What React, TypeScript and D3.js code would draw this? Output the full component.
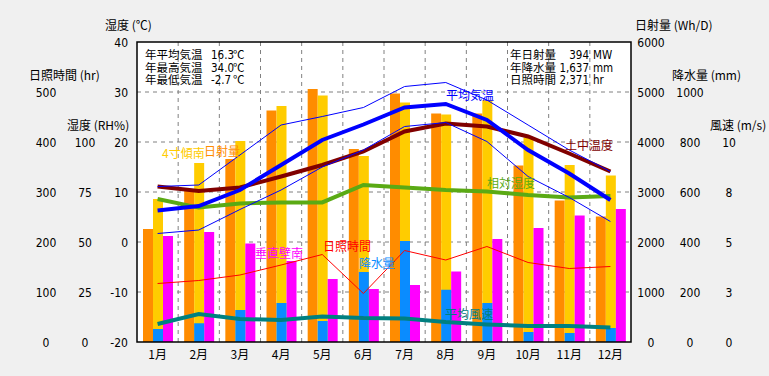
import React from "react";
import * as d3 from "d3";

const months = ["1月","2月","3月","4月","5月","6月","7月","8月","9月","10月","11月","12月"];
const radiation = [2260, 3030, 3660, 4630, 5060, 3860, 4970, 4570, 4570, 3530, 2830, 2510];
const tiltSouth = [2860, 3580, 4020, 4720, 4930, 3720, 4790, 4550, 4840, 4090, 3540, 3330];
const wallSouth = [2120, 2200, 1970, 1620, 1260, 1060, 1140, 1410, 2060, 2280, 2530, 2660];
const precipitation = [52, 75, 128, 156, 84, 280, 404, 209, 156, 40, 36, 56];
const avgTemp = [6.3, 7.2, 10.4, 15.4, 20.4, 23.5, 26.9, 27.6, 24.4, 18.4, 13.7, 8.4];
const maxTemp = [11.1, 11.4, 17.4, 23.4, 25.1, 26.9, 31.1, 31.9, 28.4, 23.4, 18.4, 14.1];
const minTemp = [1.7, 2.4, 6.5, 10.4, 15.0, 18.4, 23.1, 23.9, 20.1, 13.1, 8.9, 4.1];
const soilTemp = [11.1, 10.2, 10.9, 13.1, 15.4, 18.1, 22.1, 23.7, 23.1, 21.1, 17.7, 14.1];
const humidity = [71.5, 67.2, 69.3, 69.8, 69.8, 78.5, 77.3, 76.0, 75.2, 73.5, 72.3, 73.0];
const sunshine = [117, 123, 134, 154, 175, 97, 183, 164, 191, 159, 147, 151];
const windSpeed = [0.9, 1.4, 1.15, 1.1, 1.27, 1.2, 1.18, 1.0, 0.88, 0.8, 0.8, 0.72];

const tempTicks = [-20, -10, 0, 10, 20, 30, 40];
const sunTicks = [0, 100, 200, 300, 400, 500];
const rhTicks = [0, 25, 50, 75, 100];
const radTicks = [0, 1000, 2000, 3000, 4000, 5000, 6000];
const precTicks = [0, 200, 400, 600, 800, 1000];
const windTicks = [0, 2.5, 5, 7.5, 10];
const windTickLabels = ["0", "3", "5", "8", "10"];

const leftInfo = [
  ["年平均気温", "16.3", "℃"],
  ["年最高気温", "34.0", "℃"],
  ["年最低気温", "-2.7", "℃"],
];
const rightInfo = [
  ["年日射量", "394", "MW"],
  ["年降水量", "1,637", "mm"],
  ["日照時間", "2,371", "hr"],
];

const L = 137, R = 631, T = 42, B = 342;
const JP = "'Noto Sans CJK JP', 'Noto Sans', sans-serif";
const NUM = "'Liberation Sans Narrow', 'DejaVu Sans Condensed', 'Liberation Sans', sans-serif";

export default function App() {
  const x = d3.scaleBand<string>().domain(months).range([L, R]).padding(0);
  const bw = x.bandwidth();
  const cx = (i: number) => (x(months[i]) as number) + bw / 2;
  const yT = d3.scaleLinear().domain([-20, 40]).range([B, T]);
  const yRad = d3.scaleLinear().domain([0, 6000]).range([B, T]);
  const yPrec = d3.scaleLinear().domain([0, 1200]).range([B, T]);
  const ySun = d3.scaleLinear().domain([0, 600]).range([B, T]);
  const yRH = d3.scaleLinear().domain([0, 150]).range([B, T]);
  const yWind = d3.scaleLinear().domain([0, 15]).range([B, T]);

  const mk = (scale: d3.ScaleLinear<number, number>) =>
    d3.line<number>().x((_, i) => cx(i)).y((d) => scale(d));

  const barW = 10;
  const off = 6;
  const bar = (vals: number[], slot: number, scale: d3.ScaleLinear<number, number>, color: string, key: string) =>
    vals.map((v, i) => {
      const x0 = (x(months[i]) as number) + off + slot * barW;
      return <rect key={key + i} x={x0} y={scale(v)} width={barW} height={B - scale(v)} fill={color} />;
    });

  const lbl = (t: string, xx: number, yy: number, c: string) => (
    <text x={xx} y={yy} fill={c} fontSize={12} fontFamily={JP}>{t}</text>
  );

  return (
    <svg width={769} height={376} style={{ position: "absolute", left: 0, top: 0, display: "block" }}>
      <rect x={0} y={0} width={769} height={376} fill="#f0f0f0" />
      <rect x={L} y={T} width={R - L} height={B - T} fill="#ffffff" />
      {/* grid */}
      {tempTicks.slice(1, -1).map((t) => (
        <line key={"h" + t} x1={L} x2={R} y1={yT(t)} y2={yT(t)} stroke="#808080" strokeDasharray="4,4" />
      ))}
      {months.slice(1).map((m) => (
        <line key={"v" + m} x1={(x(m) as number)} x2={(x(m) as number)} y1={T} y2={B} stroke="#808080" strokeDasharray="4,4" />
      ))}
      {/* bars */}
      {bar(radiation, 0, yRad, "#ff8c00", "r")}
      {bar(tiltSouth, 1, yRad, "#ffcc00", "t")}
      {bar(wallSouth, 2, yRad, "#ff00ff", "w")}
      {bar(precipitation, 1, yPrec, "#0a8cff", "p")}
      {/* lines */}
      <path d={mk(yRH)(humidity) as string} fill="none" stroke="#5aaa14" strokeWidth={4} />
      <path d={mk(yWind)(windSpeed) as string} fill="none" stroke="#008080" strokeWidth={4} />
      <path d={mk(yT)(soilTemp) as string} fill="none" stroke="#800000" strokeWidth={4} />
      <path d={mk(ySun)(sunshine) as string} fill="none" stroke="#ff0000" strokeWidth={1} />
      <path d={mk(yT)(maxTemp) as string} fill="none" stroke="#0000ff" strokeWidth={1} />
      <path d={mk(yT)(minTemp) as string} fill="none" stroke="#0000ff" strokeWidth={1} />
      <path d={mk(yT)(avgTemp) as string} fill="none" stroke="#0000ff" strokeWidth={4} />
      {/* border */}
      <rect x={L} y={T} width={R - L} height={B - T} fill="none" stroke="#000" strokeWidth={1.5} />
      {/* series labels */}
      {lbl("4寸傾南", 162, 158, "#ffcc00")}
      {lbl("日射量", 204, 156, "#ff8c00")}
      {lbl("平均気温", 446, 100, "#0000ff")}
      {lbl("土中温度", 565, 150, "#800000")}
      {lbl("相対湿度", 487, 188, "#5aaa14")}
      {lbl("日照時間", 323, 251, "#ff0000")}
      {lbl("垂直壁南", 255, 258, "#ff00ff")}
      {lbl("降水量", 359, 268, "#0a8cff")}
      {lbl("平均風速", 445, 319, "#008080")}
      {/* info boxes */}
      {leftInfo.map((r, i) => (
        <g key={"li" + i} fontSize={11.5} fill="#000">
          <text x={145} y={59 + i * 12.5} fontFamily={JP}>{r[0]}</text>
          <text x={211} y={59 + i * 12.5} fontFamily={NUM}>{r[1]}</text>
          <text x={233} y={59 + i * 12.5} fontFamily={JP}>{r[2]}</text>
        </g>
      ))}
      {rightInfo.map((r, i) => (
        <g key={"ri" + i} fontSize={11.5} fill="#000">
          <text x={510} y={59 + i * 12.5} fontFamily={JP}>{r[0]}</text>
          <text x={589} y={59 + i * 12.5} fontFamily={NUM} textAnchor="end">{r[1]}</text>
          <text x={593} y={59 + i * 12.5} fontFamily={NUM}>{r[2]}</text>
        </g>
      ))}
      {/* axis titles */}
      <g fontSize={12} fontFamily={JP} fill="#000">
        <text x={105} y={30}>湿度 (℃)</text>
        <text x={29} y={80}>日照時間 (hr)</text>
        <text x={67} y={130}>湿度 (RH%)</text>
        <text x={635} y={30}>日射量 (Wh/D)</text>
        <text x={672} y={80}>降水量 (mm)</text>
        <text x={710} y={130}>風速 (m/s)</text>
      </g>
      {/* tick labels */}
      <g fontSize={12} fontFamily={NUM} fill="#000" dominantBaseline="central">
        {tempTicks.map((t) => (
          <text key={"tt" + t} x={128} y={yT(t) + 1} textAnchor="end">{t}</text>
        ))}
        {sunTicks.map((t) => (
          <text key={"st" + t} x={46} y={ySun(t) + 1} textAnchor="middle">{t}</text>
        ))}
        {rhTicks.map((t) => (
          <text key={"rt" + t} x={85} y={yRH(t) + 1} textAnchor="middle">{t}</text>
        ))}
        {radTicks.map((t) => (
          <text key={"ra" + t} x={651} y={yRad(t) + 1} textAnchor="middle">{t}</text>
        ))}
        {precTicks.map((t) => (
          <text key={"pt" + t} x={690} y={yPrec(t) + 1} textAnchor="middle">{t}</text>
        ))}
        {windTicks.map((t, i) => (
          <text key={"wt" + t} x={729} y={yWind(t) + 1} textAnchor="middle">{windTickLabels[i]}</text>
        ))}
      </g>
      {/* month labels */}
      <g fontSize={12} fontFamily={JP} fill="#000">
        {months.map((m, i) => (
          <text key={"m" + m} x={cx(i)} y={359} textAnchor="middle">{m}</text>
        ))}
      </g>
    </svg>
  );
}
